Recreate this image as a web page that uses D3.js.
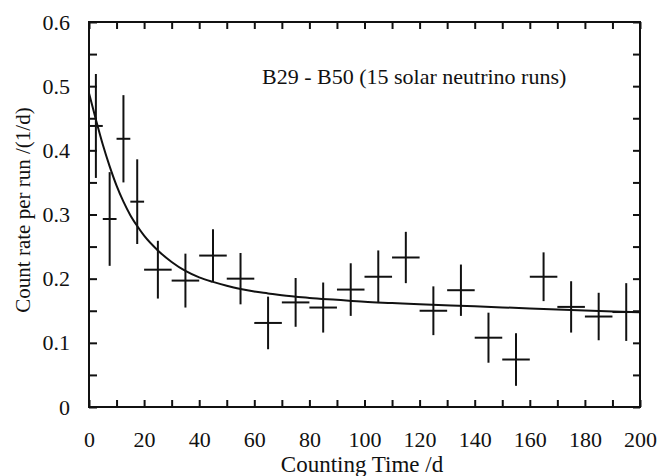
<!DOCTYPE html>
<html>
<head>
<meta charset="utf-8">
<script src="https://cdn.jsdelivr.net/npm/d3@7"></script>
<style>
  body { margin: 0; background: #fff; }
  svg { display: block; }
  text { font-family: "Liberation Serif", "Times New Roman", serif; fill: #111; }
</style>
</head>
<body>
<div id="chart"></div>
<script>
// counting time bins (days) and measured count rate per run (1/d)
var binEdges = [0, 5, 10, 15, 20, 30, 40, 50, 60, 70, 80, 90, 100, 110, 120, 130, 140, 150, 160, 170, 180, 190, 200];
var rate = [0.438, 0.293, 0.418, 0.320, 0.214, 0.197, 0.236, 0.200, 0.131, 0.163, 0.155,
            0.183, 0.203, 0.233, 0.150, 0.182, 0.108, 0.074, 0.203, 0.156, 0.141, 0.148];
var rateErr = [0.081, 0.073, 0.068, 0.066, 0.045, 0.042, 0.041, 0.040, 0.041, 0.038, 0.039,
               0.041, 0.041, 0.040, 0.038, 0.040, 0.039, 0.041, 0.038, 0.040, 0.037, 0.045];

// fitted curve
var fitTime = [0, 2.5, 5, 7.5, 10, 12.5, 15, 17.5, 20, 25, 30, 35, 40, 45, 50, 55, 60, 65, 70,
               80, 90, 100, 110, 120, 140, 160, 180, 200];
var fitRate = [0.489, 0.448, 0.409, 0.375, 0.345, 0.320, 0.299, 0.282, 0.267, 0.244, 0.226,
               0.212, 0.202, 0.195, 0.189, 0.184, 0.180, 0.177, 0.174, 0.170, 0.167, 0.164,
               0.162, 0.160, 0.157, 0.1535, 0.1505, 0.1475];

var xTicks = d3.range(0, 201, 10);
var yTicks = d3.range(0, 0.6001, 0.05);
var note = "B29 - B50 (15 solar neutrino runs)";

var width = 659, height = 476;
var margin = {top: 22, right: 19, bottom: 69, left: 89};
var w = width - margin.left - margin.right,
    h = height - margin.top - margin.bottom;

var svg = d3.select("#chart").append("svg")
    .attr("width", width)
    .attr("height", height);

var g = svg.append("g")
    .attr("transform", "translate(" + margin.left + "," + margin.top + ")");

var x = d3.scaleLinear().domain([0, 200]).range([0, w]);
var y = d3.scaleLinear().domain([0, 0.6]).range([h, 0]);

var points = rate.map(function(d, i) {
  return {lo: binEdges[i], hi: binEdges[i + 1], mid: (binEdges[i] + binEdges[i + 1]) / 2, v: d, e: rateErr[i]};
});

// axes, ticks pointing inward
g.append("g")
    .attr("class", "axis")
    .attr("transform", "translate(0," + h + ")")
    .call(d3.axisBottom(x).tickValues(xTicks).tickSizeInner(-7).tickSizeOuter(0).tickPadding(24)
      .tickFormat(function(d) { return d % 20 === 0 ? d : ""; }));

g.append("g")
    .attr("class", "axis")
    .call(d3.axisTop(x).tickValues(xTicks).tickSizeInner(-7).tickSizeOuter(0).tickFormat(""));

g.append("g")
    .attr("class", "axis")
    .call(d3.axisLeft(y).tickValues(yTicks).tickSizeInner(-8).tickSizeOuter(0).tickPadding(19)
      .tickFormat(function(d) {
        var r = Math.round(d * 100);
        if (r % 10 !== 0) return "";
        return r === 0 ? "0" : (r / 100).toFixed(1);
      }));

g.append("g")
    .attr("class", "axis")
    .attr("transform", "translate(" + w + ",0)")
    .call(d3.axisRight(y).tickValues(yTicks).tickSizeInner(-7).tickSizeOuter(0).tickFormat(""));

g.selectAll(".axis").attr("font-family", null).attr("font-size", null);
g.selectAll(".axis .domain").remove();
g.selectAll(".axis line").attr("stroke", "#111").attr("stroke-width", 2);
g.selectAll(".axis text")
    .style("font-family", '"Liberation Serif", serif')
    .style("font-size", "22px")
    .attr("fill", "#111");

g.append("rect")
    .attr("width", w)
    .attr("height", h)
    .attr("fill", "none")
    .attr("stroke", "#111")
    .attr("stroke-width", 2);

// fit curve
var line = d3.line()
    .x(function(d) { return x(d[0]); })
    .y(function(d) { return y(d[1]); })
    .curve(d3.curveMonotoneX);

g.append("path")
    .datum(fitTime.map(function(t, i) { return [t, fitRate[i]]; }))
    .attr("d", line)
    .attr("fill", "none")
    .attr("stroke", "#111")
    .attr("stroke-width", 2);

// data crosses
var cross = g.selectAll(".pt").data(points).enter().append("g").attr("class", "pt");

cross.append("line")
    .attr("x1", function(d) { return x(d.lo); })
    .attr("x2", function(d) { return x(d.hi); })
    .attr("y1", function(d) { return y(d.v); })
    .attr("y2", function(d) { return y(d.v); });

cross.append("line")
    .attr("x1", function(d) { return x(d.mid); })
    .attr("x2", function(d) { return x(d.mid); })
    .attr("y1", function(d) { return y(d.v + d.e); })
    .attr("y2", function(d) { return y(d.v - d.e); });

cross.selectAll("line")
    .attr("stroke", "#111")
    .attr("stroke-width", 2);

g.append("text")
    .attr("x", 173)
    .attr("y", 62)
    .style("font-size", "22px")
    .text(note);

// axis titles
svg.append("text")
    .attr("x", 362)
    .attr("y", 472)
    .attr("text-anchor", "middle")
    .style("font-size", "23px")
    .text("Counting Time /d");

svg.append("text")
    .attr("transform", "translate(30," + 210 + ")rotate(-90)")
    .attr("text-anchor", "middle")
    .style("font-size", "21px")
    .text("Count rate per run /(1/d)");
</script>
</body>
</html>
